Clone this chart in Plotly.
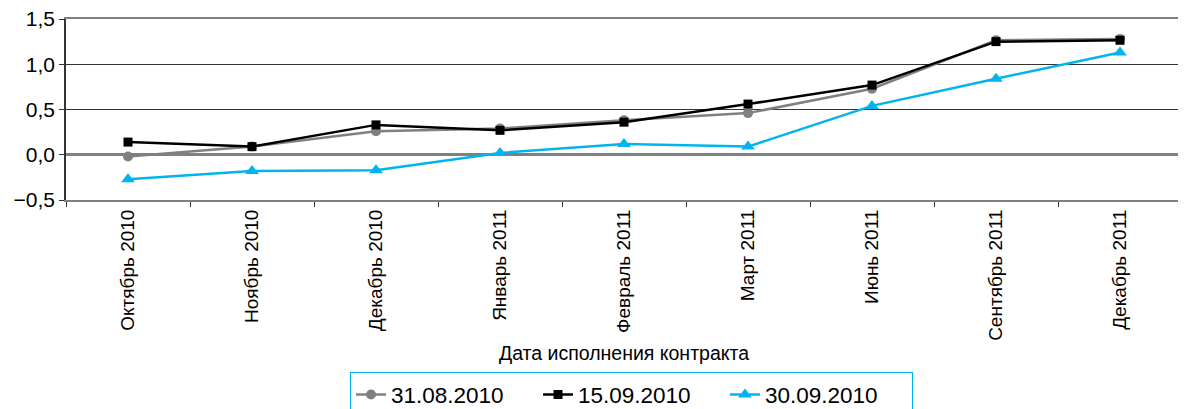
import plotly.graph_objects as go

categories = ["Октябрь 2010", "Ноябрь 2010", "Декабрь 2010", "Январь 2011",
              "Февраль 2011", "Март 2011", "Июнь 2011", "Сентябрь 2011", "Декабрь 2011"]
s_3108 = [-0.02, 0.09, 0.26, 0.29, 0.38, 0.46, 0.73, 1.265, 1.28]
s_1509 = [0.14, 0.09, 0.33, 0.27, 0.36, 0.56, 0.77, 1.25, 1.265]
s_3009 = [-0.27, -0.18, -0.17, 0.02, 0.12, 0.09, 0.54, 0.84, 1.13]
series_names = ["31.08.2010", "15.09.2010", "30.09.2010"]
y_ticks = [-0.5, 0.0, 0.5, 1.0, 1.5]

BLUE = "#00B4F0"
FONT = "Liberation Sans, Arial, sans-serif"

fig = go.Figure()
fig.add_trace(go.Scatter(x=categories, y=s_3108, name=series_names[0], mode="lines+markers",
                         line=dict(color="#808080", width=2.5),
                         marker=dict(symbol="circle", size=10, color="#808080")))
fig.add_trace(go.Scatter(x=categories, y=s_1509, name=series_names[1], mode="lines+markers",
                         line=dict(color="#000000", width=2.5),
                         marker=dict(symbol="square", size=9, color="#000000")))
fig.add_trace(go.Scatter(x=categories, y=s_3009, name=series_names[2], mode="lines+markers",
                         line=dict(color=BLUE, width=2.5),
                         marker=dict(symbol="triangle-up", size=12, color=BLUE)))

fig.update_layout(
    width=1178, height=401,
    margin=dict(l=58, r=4, t=11, b=209, autoexpand=False),
    paper_bgcolor="white", plot_bgcolor="white",
    font=dict(family=FONT, color="#000"),
    separators=", ",
    showlegend=True,
    legend=dict(orientation="h", x=0.2545, xanchor="left", y=-0.952, yanchor="top",
                bordercolor=BLUE, borderwidth=1, font=dict(size=22.5, family=FONT),
                entrywidth=142, entrywidthmode="pixels", itemwidth=30,
                traceorder="normal"),
    xaxis=dict(type="category", range=[-0.5, 8.5], tickangle=-90, automargin=False,
               tickfont=dict(size=19, family=FONT), showgrid=False,
               showline=True, linecolor="#808080", linewidth=2, mirror=True,
               ticks="outside", ticklen=5, tickcolor="#333", tickson="boundaries",
               title=dict(text="Дата исполнения контракта", font=dict(size=19.5, family=FONT), standoff=6)),
    yaxis=dict(range=[-0.5, 1.5], tickvals=y_ticks, tickformat=".1f", automargin=False,
               ticklabeloverflow="allow",
               tickfont=dict(size=21, family=FONT), showgrid=True, gridcolor="#333", gridwidth=1,
               zeroline=True, zerolinecolor="#808080", zerolinewidth=2.5,
               showline=True, linecolor="#333", linewidth=1.5,
               ticks="outside", ticklen=5, tickcolor="#333"),
)

fig.write_html("out.html")
